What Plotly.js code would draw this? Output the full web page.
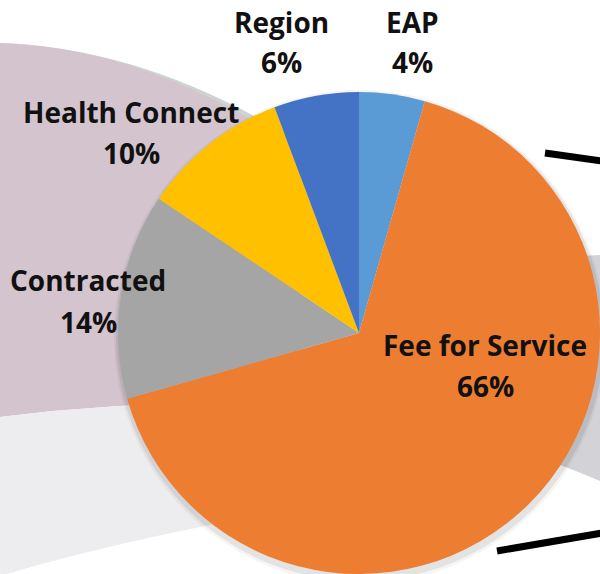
<!DOCTYPE html>
<html>
<head>
<meta charset="utf-8">
<script src="https://cdn.plot.ly/plotly-3.0.1.min.js"></script>
<style>html,body{margin:0;padding:0;background:#fff;}#chart{width:600px;height:574px;}</style>
</head>
<body>
<div id="chart"></div>
<script>
// ---- data ----
const labels = ["EAP", "Fee for Service", "Contracted", "Health Connect", "Region"];
const values = [4.4, 66.2, 13.8, 9.9, 5.7];
const colors = ["#5b9bd5", "#ed7d31", "#a5a5a5", "#ffc000", "#4472c4"];

// label placement (pixel centres of name line / percent line)
const labelPos = [
  {x: 412, y1: 22, y2: 62},
  {x: 485, y1: 345, y2: 386},
  {x: 88, y1: 280, y2: 322},
  {x: 131, y1: 112, y2: 153},
  {x: 281, y1: 22, y2: 62}
];

const W = 600, H = 574;
const px = x => x / W;
const py = y => 1 - y / H;
function path(cmds) {
  return cmds.map(c => {
    const op = c[0]; const pts = c.slice(1);
    let s = op;
    for (let i = 0; i < pts.length; i += 2) s += ' ' + px(pts[i]).toFixed(5) + ',' + py(pts[i + 1]).toFixed(5);
    return s;
  }).join(' ');
}

const total = values.reduce((a, b) => a + b, 0);

const shapes = [
  // faint greenish rim above the mauve band
  {type: 'path', xref: 'paper', yref: 'paper', layer: 'below',
   path: path([['M', 0, 43], ['Q', 150, 48, 300, 143], ['L', 300, 300], ['L', 0, 300]]) + ' Z',
   fillcolor: '#ccd5d1', line: {width: 0}},
  // mauve band on the left
  {type: 'path', xref: 'paper', yref: 'paper', layer: 'below',
   path: path([['M', 0, 43], ['Q', 150, 48, 300, 150], ['L', 300, 405], ['Q', 150, 398, 0, 417]]) + ' Z',
   fillcolor: '#d3c4ce', line: {width: 0}},
  // light grey band
  {type: 'path', xref: 'paper', yref: 'paper', layer: 'below',
   path: path([['M', 0, 417], ['Q', 150, 398, 300, 405], ['L', 300, 508], ['Q', 120, 540, 0, 576]]) + ' Z',
   fillcolor: '#edecef', line: {width: 0}},
  // grey band at right
  {type: 'path', xref: 'paper', yref: 'paper', layer: 'below',
   path: path([['M', 540, 258], ['L', 600, 255], ['L', 600, 481], ['Q', 575, 470, 540, 458]]) + ' Z',
   fillcolor: '#d2d2d7', line: {width: 0}},
  // pie shadow (soft, mostly below)
  {type: 'circle', xref: 'paper', yref: 'paper', layer: 'below',
   x0: px(114), x1: px(606), y0: py(90), y1: py(584),
   fillcolor: 'rgba(0,0,0,0.04)', line: {width: 0}},
  {type: 'circle', xref: 'paper', yref: 'paper', layer: 'below',
   x0: px(116), x1: px(604), y0: py(92), y1: py(581),
   fillcolor: 'rgba(0,0,0,0.07)', line: {width: 0}},
  // black strokes
  {type: 'line', xref: 'paper', yref: 'paper', layer: 'above',
   x0: px(545), y0: py(153), x1: px(602), y1: py(161),
   line: {color: '#000', width: 7}},
  {type: 'line', xref: 'paper', yref: 'paper', layer: 'above',
   x0: px(497), y0: py(551), x1: px(602), y1: py(533),
   line: {color: '#000', width: 7}}
];

const font = {family: '"Open Sans", "Noto Sans", sans-serif', size: 28, color: '#111', weight: 700};
const annotations = [];
labels.forEach((lab, i) => {
  const p = labelPos[i];
  annotations.push({xref: 'paper', yref: 'paper', x: px(p.x), y: py(p.y1), text: '<b>' + lab + '</b>',
    showarrow: false, xanchor: 'center', yanchor: 'middle', font: font});
  annotations.push({xref: 'paper', yref: 'paper', x: px(p.x), y: py(p.y2),
    text: '<b>' + Math.round(values[i] / total * 100) + '%</b>',
    showarrow: false, xanchor: 'center', yanchor: 'middle', font: font});
});

const trace = {
  type: 'pie',
  labels: labels,
  values: values,
  sort: false,
  direction: 'clockwise',
  rotation: 0,
  marker: {colors: colors, line: {width: 0}},
  textinfo: 'none',
  hoverinfo: 'label+percent',
  domain: {x: [118 / W, 1], y: [0, 482 / H]},
  showlegend: false
};

const layout = {
  width: W, height: H,
  margin: {l: 0, r: 0, t: 0, b: 0},
  paper_bgcolor: '#ffffff',
  plot_bgcolor: 'rgba(0,0,0,0)',
  showlegend: false,
  shapes: shapes,
  annotations: annotations
};

Plotly.newPlot('chart', [trace], layout, {displayModeBar: false, staticPlot: true});
</script>
</body>
</html>
